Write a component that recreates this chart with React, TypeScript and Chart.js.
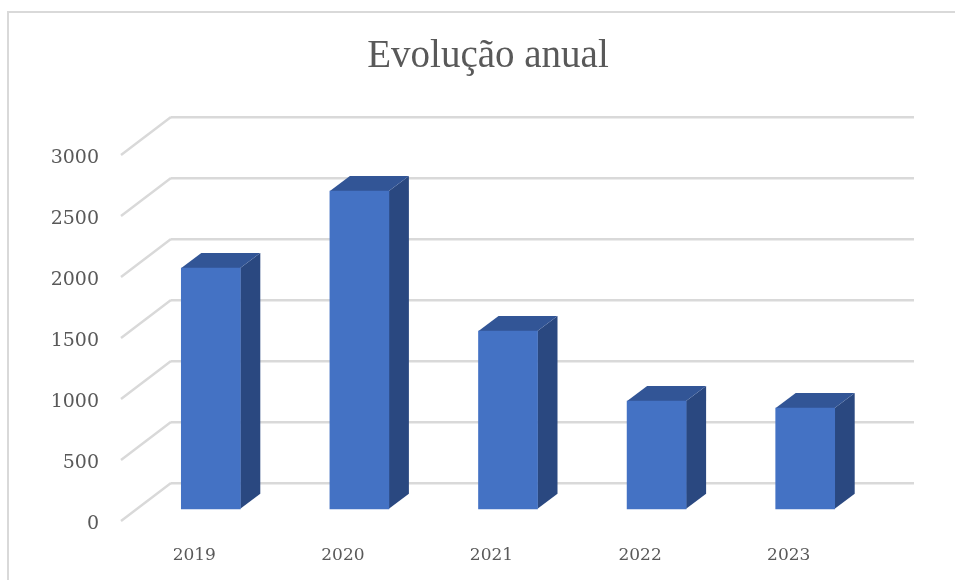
import React, { useEffect, useRef } from "react";
import { Chart, registerables } from "chart.js";

Chart.register(...registerables);

const years = ["2019", "2020", "2021", "2022", "2023"];
const totals = [1983, 2615, 1467, 893, 836];
const titleText = "Evolução anual";

const FRONT = "#4472C4";
const TOP = "#325596";
const SIDE = "#2A4880";
const GRID = "#D9D9D9";
const TEXT = "#595959";
const FONT = "'Liberation Serif', serif";
const TICK_FONT = "'DejaVu Serif', serif";

// 3D projection
const DEPTH_X = 20;
const DEPTH_Y = 15;
const SHIFT_X = -34.5;
const SHIFT_Y = 27;
const WALL_X = 50;
const WALL_Y = 38;

const perspective = {
  id: "perspective",
  beforeDatasetsDraw(chart: any) {
    const { ctx, chartArea } = chart;
    const y = chart.scales.y;
    ctx.save();
    ctx.strokeStyle = GRID;
    ctx.lineWidth = 2.4;
    y.ticks.forEach((t: any) => {
      const py = y.getPixelForValue(t.value);
      ctx.beginPath();
      ctx.moveTo(chartArea.left, py);
      ctx.lineTo(chartArea.left - WALL_X, py + WALL_Y);
      ctx.stroke();
    });
    ctx.restore();
    ctx.save();
    ctx.translate(SHIFT_X, SHIFT_Y);
    chart.getDatasetMeta(0).data.forEach((bar: any) => {
      const l = bar.x - bar.width / 2;
      const r = bar.x + bar.width / 2;
      ctx.fillStyle = SIDE;
      ctx.beginPath();
      ctx.moveTo(r, bar.y);
      ctx.lineTo(r + DEPTH_X, bar.y - DEPTH_Y);
      ctx.lineTo(r + DEPTH_X, bar.base - DEPTH_Y);
      ctx.lineTo(r, bar.base);
      ctx.closePath();
      ctx.fill();
      ctx.fillStyle = TOP;
      ctx.beginPath();
      ctx.moveTo(l, bar.y);
      ctx.lineTo(l + DEPTH_X, bar.y - DEPTH_Y);
      ctx.lineTo(r + DEPTH_X, bar.y - DEPTH_Y);
      ctx.lineTo(r, bar.y);
      ctx.closePath();
      ctx.fill();
    });
  },
  afterDatasetsDraw(chart: any) {
    chart.ctx.restore();
  },
};

export default function App() {
  const ref = useRef<HTMLCanvasElement>(null);
  useEffect(() => {
    const chart = new Chart(ref.current!, {
      type: "bar",
      data: {
        labels: years,
        datasets: [
          {
            data: totals,
            backgroundColor: FRONT,
            barThickness: 59,
            clip: false,
          } as any,
        ],
      },
      plugins: [perspective],
      options: {
        animation: false,
        responsive: false,
        layout: { padding: { left: 40, right: 19, top: 33, bottom: 0 } },
        plugins: {
          legend: { display: false },
          tooltip: { enabled: false },
          title: {
            display: true,
            text: titleText,
            color: TEXT,
            font: { family: FONT, size: 39, weight: "normal", lineHeight: 1.2 },
            padding: { top: 0, bottom: 37.2 },
          },
        },
        scales: {
          x: {
            afterFit: (s: any) => {
              s.height = 97;
            },
            grid: { display: false },
            border: { display: false },
            ticks: {
              color: TEXT,
              font: { family: TICK_FONT, size: 17 },
              labelOffset: -51,
              padding: 54,
              maxRotation: 0,
            },
          },
          y: {
            min: 0,
            max: 3000,
            afterFit: (s: any) => {
              s.width = 131;
            },
            grid: { color: GRID, lineWidth: 2.4, drawTicks: false },
            border: { display: false },
            ticks: {
              stepSize: 500,
              color: TEXT,
              font: { family: TICK_FONT, size: 19 },
              labelOffset: 41,
              padding: 72,
              callback: (v: any) => String(v),
            },
          },
          rightGutter: {
            position: "right",
            display: true,
            min: 0,
            max: 1,
            afterFit: (s: any) => {
              s.width = 22;
            },
            grid: { display: false },
            border: { display: false },
            ticks: { display: false },
          },
        },
      },
    });
    return () => chart.destroy();
  }, []);
  return (
    <div style={{ position: "absolute", left: 0, top: 0, width: 955, height: 580, overflow: "hidden", background: "#fff" }}>
      <div style={{ position: "absolute", left: 7, top: 11, right: 0, bottom: -4, borderLeft: `2px solid ${GRID}`, borderTop: `2px solid ${GRID}` }} />
      <canvas ref={ref} width={955} height={580} style={{ position: "absolute", left: 0, top: 0, display: "block" }} />
    </div>
  );
}
